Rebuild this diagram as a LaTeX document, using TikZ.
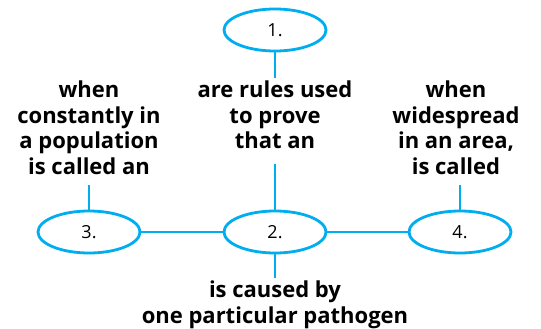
\documentclass[tikz,border=0pt]{standalone}
\usepackage{fontspec}
\setmainfont{Open Sans}
\usepackage{xcolor}
\definecolor{cyanline}{HTML}{00AEEF}
\usetikzlibrary{shapes.geometric,positioning}
\tikzset{
  oval/.style={ellipse,draw=cyanline,line width=2.8pt,minimum width=102pt,minimum height=42pt,inner sep=0pt,font=\fontsize{18}{20}\selectfont},
  lbl/.style={align=center,inner sep=3pt,font=\fontsize{22}{25.5}\selectfont\bfseries},
  conn/.style={draw=cyanline,line width=2.8pt},
}
\begin{document}
\begin{tikzpicture}[x=1pt,y=-1pt]
\useasboundingbox (0,0) rectangle (541,329);
% ovals
\node[oval] (one) at (275,30) {1.};
\node[oval] (two) at (275,232) {2.};
\node[oval] (three) at (89,232) {3.};
\node[oval] (four) at (460,232) {4.};
% linking phrases
\node[lbl,anchor=north] (rules) at (275,78) {are rules used\\to prove\\that an};
\node[lbl,anchor=north] (constant) at (89,78) {when\\constantly in\\a population\\is called an};
\node[lbl,anchor=north] (wide) at (456,78) {when\\widespread\\in an area,\\is called};
\node[lbl,anchor=north] (caused) at (275,278) {is caused by\\one particular pathogen};
% connectors
\draw[conn] (one) -- (rules);
\draw[conn,shorten <=12pt] (rules) -- (two);
\draw[conn,shorten <=7pt] (constant.south -| three) -- (three);
\draw[conn,shorten <=7pt] (wide.south -| four) -- (four);
\draw[conn] (three) -- (two);
\draw[conn] (two) -- (four);
\draw[conn] (two) -- (caused);
\end{tikzpicture}
\end{document}
